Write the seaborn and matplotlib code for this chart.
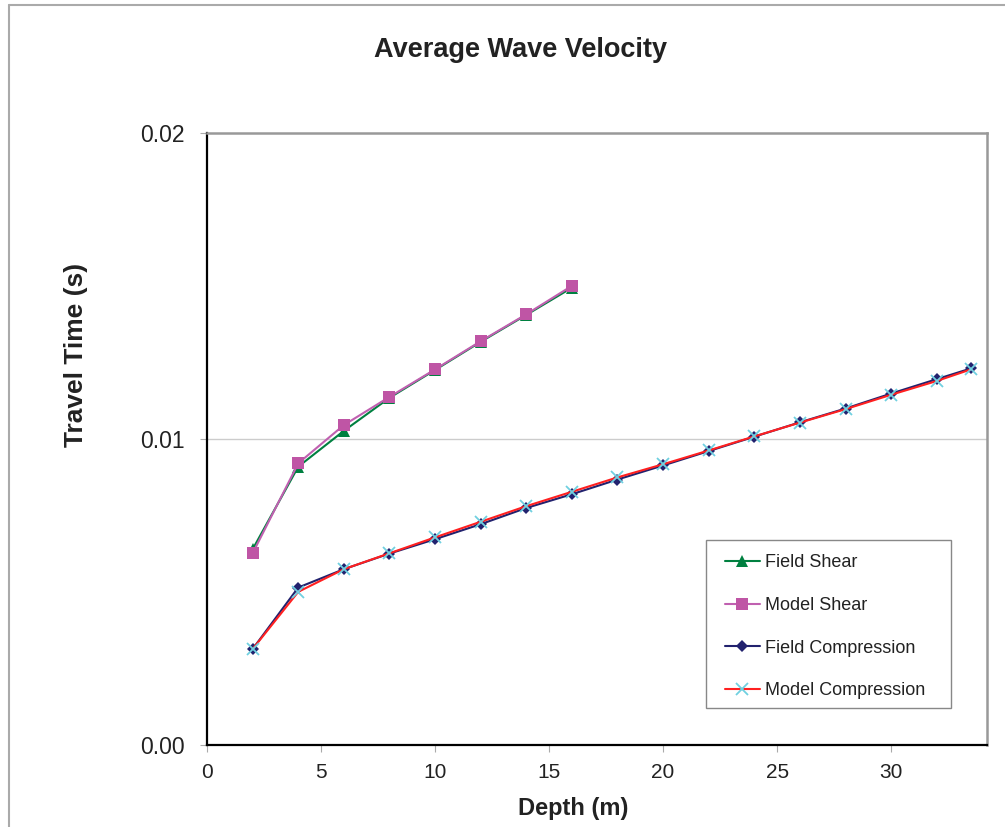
import numpy as np
import pandas as pd
import seaborn as sns
import matplotlib.pyplot as plt
from matplotlib.lines import Line2D
from matplotlib.patches import Rectangle

sns.set_style("white")
plt.rcParams['font.family'] = ['Liberation Sans', 'DejaVu Sans']

# shear data (depth in m, travel time in s)
shear_depth = [2, 4, 6, 8, 10, 12, 14, 16]
field_shear = [0.0064, 0.0091, 0.01027, 0.01135, 0.01226, 0.01318, 0.01406, 0.01495]
model_shear = [0.00627, 0.00921, 0.01046, 0.01138, 0.01228, 0.0132, 0.01408, 0.01501]

# compression data
comp_depth = [2, 4, 6, 8, 10, 12, 14, 16, 18, 20, 22, 24, 26, 28, 30, 32, 33.5]
field_comp = [0.00314, 0.00515, 0.00575, 0.00626, 0.00673, 0.00722, 0.00775, 0.0082,
              0.00868, 0.00914, 0.00961, 0.01008, 0.01055, 0.011, 0.01149, 0.01196, 0.01231]
model_comp = [0.00314, 0.00501, 0.00575, 0.00627, 0.00679, 0.0073, 0.00781, 0.00828,
              0.00875, 0.00918, 0.00963, 0.01009, 0.01054, 0.01098, 0.01145, 0.0119, 0.01228]

shear = pd.DataFrame({'depth': shear_depth, 'field': field_shear, 'model': model_shear})
comp = pd.DataFrame({'depth': comp_depth, 'field': field_comp, 'model': model_comp})

fig = plt.figure(figsize=(10.05, 8.27), dpi=100)
ax = fig.add_axes([0.206, 0.099, 0.776, 0.740])

sns.lineplot(data=shear, x='depth', y='field', ax=ax, color='#008040', lw=1.5,
             marker='^', markersize=8, markeredgewidth=0, label='Field Shear')
sns.lineplot(data=shear, x='depth', y='model', ax=ax, color='#c060b0', lw=1.5,
             marker='s', markersize=9, markeredgewidth=0, markerfacecolor='#bf55a5',
             label='Model Shear')
sns.lineplot(data=comp, x='depth', y='field', ax=ax, color='#22226e', lw=1.5,
             marker='D', markersize=6, markeredgewidth=0, label='Field Compression')
sns.lineplot(data=comp, x='depth', y='model', ax=ax, color='#ff2020', lw=1.5,
             marker='x', markersize=8, markeredgewidth=1.3, markeredgecolor='#70d0e0',
             label='Model Compression')

ax.set_xlim(0, 34.2)
ax.set_ylim(0, 0.02)
ax.set_xticks([0, 5, 10, 15, 20, 25, 30])
ax.set_yticks([0, 0.01, 0.02])
ax.set_yticklabels(['0.00', '0.01', '0.02'])
ax.tick_params(axis='x', labelsize=15, labelcolor='#222222', length=5, width=0.8,
               color='#aaaaaa', direction='out', bottom=True, pad=8)
ax.tick_params(axis='y', labelsize=16.5, labelcolor='#222222', length=5, width=0.8,
               color='#aaaaaa', direction='out', left=True, pad=11)
ax.axhline(0.01, color='#cccccc', lw=1, zorder=0)

for side in ['left', 'bottom']:
    ax.spines[side].set_color('black')
    ax.spines[side].set_linewidth(1.6)
for side in ['top', 'right']:
    ax.spines[side].set_color('#999999')
    ax.spines[side].set_linewidth(1.8)

ax.set_xlabel('Depth (m)', fontsize=17, fontweight='bold', color='#222222')
ax.set_ylabel('Travel Time (s)', fontsize=19, fontweight='bold', color='#222222')
ax.xaxis.set_label_coords(0.469, -0.084)
ax.yaxis.set_label_coords(-0.153, 0.637)

fig.text(0.518, 0.939, 'Average Wave Velocity', fontsize=19.5, fontweight='bold',
         ha='center', va='center', color='#222222')

# legend without its own frame, box drawn separately (Excel-like padding)
leg = ax.legend(loc='upper left', bbox_to_anchor=(0.664, 0.3115), fontsize=13,
                frameon=False, handlelength=1.95, labelspacing=1.42,
                borderpad=0, handletextpad=0.25, borderaxespad=0)
for t in leg.get_texts():
    t.set_color('#222222')
ax.add_patch(Rectangle((0.640, 0.0605), 0.314, 0.2745, transform=ax.transAxes,
                       facecolor='white', edgecolor='#888888', lw=1.0, zorder=4))
leg.set_zorder(5)

# outer chart border
fig.add_artist(Line2D([0.009, 0.009], [0, 0.994], color='#aaaaaa', lw=1.5))
fig.add_artist(Line2D([0.009, 1.0], [0.994, 0.994], color='#aaaaaa', lw=1.5))

fig.savefig('out.png', dpi=100)
